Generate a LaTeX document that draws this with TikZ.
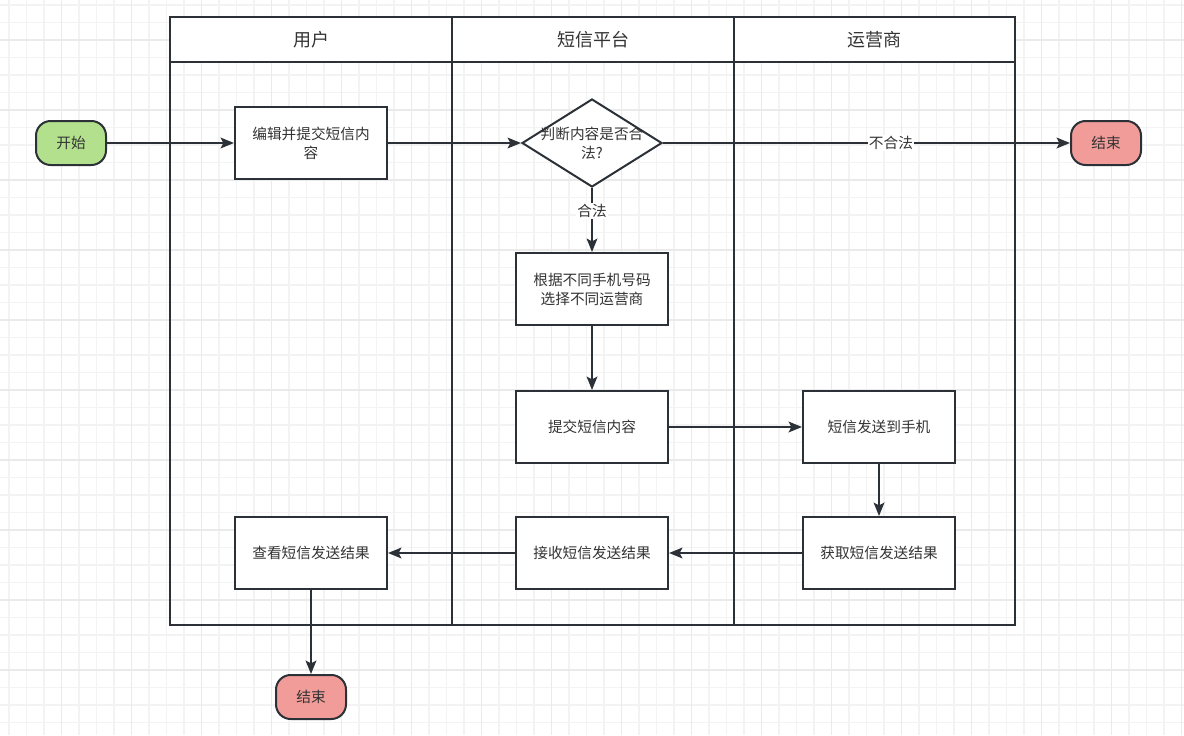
\documentclass[tikz,border=0pt]{standalone}
\usepackage{fontspec}
\newfontfamily\cjk{Noto Sans CJK SC}
\usetikzlibrary{arrows.meta,shapes.geometric}
\definecolor{linecol}{HTML}{2B3136}
\definecolor{textcol}{HTML}{333333}
\definecolor{startfill}{HTML}{B2E08C}
\definecolor{endfill}{HTML}{F19C99}
\definecolor{gridminor}{HTML}{F3F3F3}
\definecolor{gridmajor}{HTML}{EAEAEA}

\begin{document}
\begin{tikzpicture}[x=0.75pt,y=-0.75pt,
  every node/.style={font=\cjk\fontsize{11}{14.2}\selectfont,text=textcol},
  lane/.style={draw=linecol,line width=1.5pt},
  head/.style={font=\cjk\fontsize{13.5}{16}\selectfont},
  box/.style={draw=linecol,line width=1.5pt,fill=white,minimum width=114pt,minimum height=54pt,align=center,inner sep=2pt},
  term/.style={draw=linecol,line width=1.5pt,rounded corners=11pt,minimum width=52.5pt,minimum height=33pt,inner sep=1pt},
  choice/.style={diamond,draw=linecol,line width=1.5pt,fill=white,minimum width=105pt,minimum height=66pt,inner sep=0pt},
  flow/.style={draw=linecol,line width=1.5pt,-{Stealth[length=10pt,width=8pt,inset=2pt]}},
  lbl/.style={fill=white,inner sep=1pt}]
\useasboundingbox (0,0) rectangle (1184,735);
\fill[white] (0,0) rectangle (1184,735);
% background grid
\foreach \x in {9,26.5,...,1184} \draw[gridminor,line width=0.9pt] (\x,0)--(\x,735);
\foreach \y in {5,22.5,...,735} \draw[gridminor,line width=0.9pt] (0,\y)--(1184,\y);
\foreach \x in {61.5,131.5,...,1184} \draw[gridmajor,line width=0.9pt] (\x,0)--(\x,735);
\foreach \y in {40,110,...,735} \draw[gridmajor,line width=0.9pt] (0,\y)--(1184,\y);

% swimlanes
\draw[lane,fill=white] (170,17) rectangle (1015,62);
\draw[lane] (170,17) rectangle (1015,625);
\draw[lane] (452,17)--(452,625);
\draw[lane] (734,17)--(734,625);
\node[head] (hUser) at (311,40) {用户};
\node[head] (hSms) at (593,40) {短信平台};
\node[head] (hCarrier) at (874,40) {运营商};

% nodes
\node[term,fill=startfill] (start) at (71,143) {开始};
\node[box] (edit) at (311,143) {编辑并提交短信内\\容};
\node[choice] (check) at (592,143) {};
\node[align=center] (checkText) at (check.center) {判断内容是否合\\法?};
\node[term,fill=endfill] (stopA) at (1106,143) {结束};
\node[box] (route) at (592,289) {根据不同手机号码\\选择不同运营商};
\node[box] (submit) at (592,427) {提交短信内容};
\node[box] (send) at (879,427) {短信发送到手机};
\node[box] (fetch) at (879,553) {获取短信发送结果};
\node[box] (recv) at (592,553) {接收短信发送结果};
\node[box] (view) at (311,553) {查看短信发送结果};
\node[term,fill=endfill] (stopB) at (311,697) {结束};

% connectors
\draw[flow] (start)--(edit);
\draw[flow] (edit)--(check);
\draw[flow] (check)--node[lbl,pos=0.56]{不合法}(stopA);
\draw[flow] (check)--node[lbl,pos=0.36]{合法}(route);
\draw[flow] (route)--(submit);
\draw[flow] (submit)--(send);
\draw[flow] (send)--(fetch);
\draw[flow] (fetch)--(recv);
\draw[flow] (recv)--(view);
\draw[flow] (view)--(stopB);
\end{tikzpicture}
\end{document}
